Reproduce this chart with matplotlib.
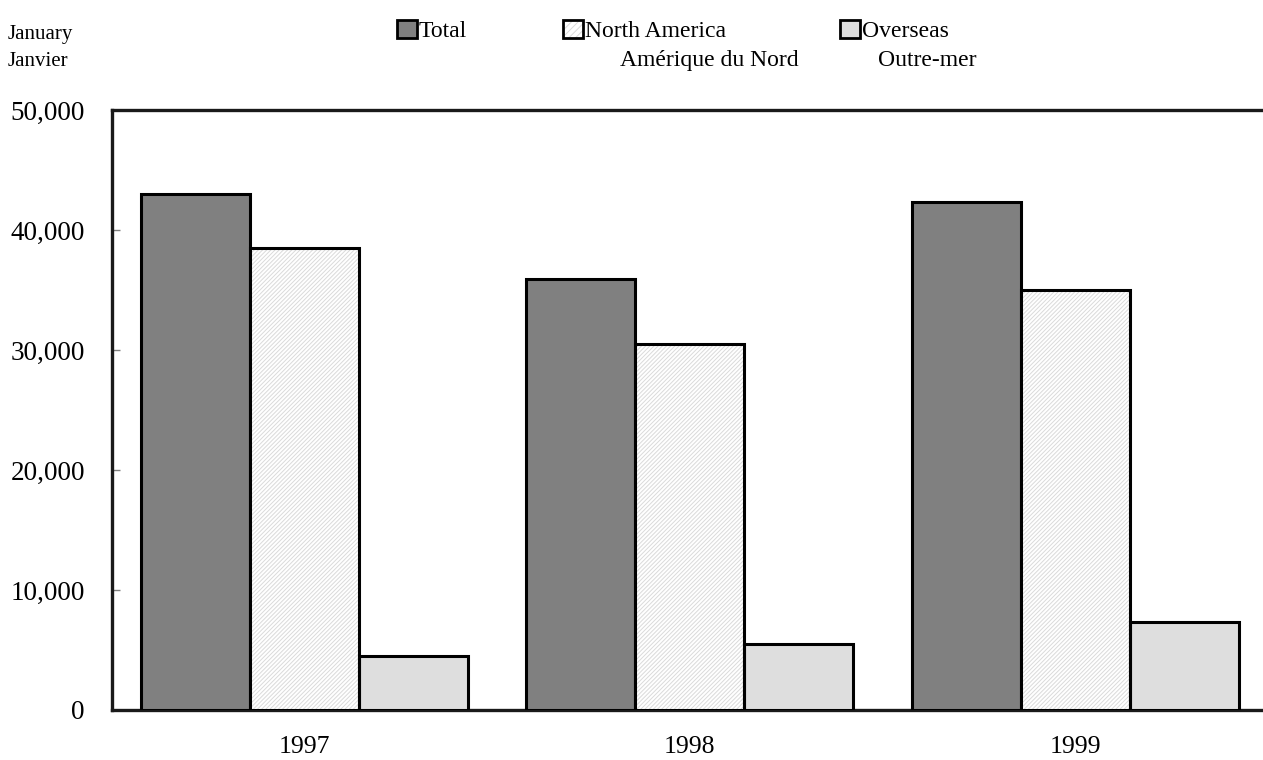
import numpy as np
import matplotlib.pyplot as plt
from matplotlib.patches import Rectangle
from matplotlib.ticker import FuncFormatter

plt.rcParams['font.family'] = ['Liberation Serif', 'DejaVu Serif']
plt.rcParams['hatch.linewidth'] = 0.7

years = ['1997', '1998', '1999']
total = [43000, 35900, 42300]
north_america = [38500, 30500, 35000]
overseas = [4500, 5500, 7300]

x = np.arange(len(years))
w = 0.283
hatch = '/' * 8

fig = plt.figure(figsize=(12.63, 7.6), dpi=100)
ax = fig.add_axes([0.0887, 0.0658, 0.9113, 0.7895])

ax.bar(x - w, total, w, color='#808080', edgecolor='black', linewidth=2.2, zorder=3)
# hatched bars: light hatch first, black outline on top
ax.bar(x, north_america, w, color='white', edgecolor='#dadada', hatch=hatch, linewidth=0, zorder=3)
ax.bar(x, north_america, w, color='none', edgecolor='black', linewidth=2.2, zorder=4)
ax.bar(x + w, overseas, w, color='#dedede', edgecolor='black', linewidth=2.2, zorder=3)

ax.set_xlim(-0.5, 2.488)
ax.set_ylim(0, 50000)
ax.set_yticks(range(0, 50001, 10000))
ax.yaxis.set_major_formatter(FuncFormatter(lambda v, p: f'{int(v):,}'))
ax.set_xticks(x)
ax.set_xticklabels(years)
ax.tick_params(axis='y', direction='in', length=6, color='#808080', width=1, labelsize=19.5, pad=19.5)
ax.tick_params(axis='x', length=0, labelsize=18.5, pad=19)
ax.spines['right'].set_visible(False)
for s in ['left', 'top', 'bottom']:
    ax.spines[s].set_linewidth(2.4)
    ax.spines[s].set_color('#1a1a1a')

fig.text(0.006, 0.967, 'January\nJanvier', fontsize=15, va='top', ha='left', linespacing=1.55)

# legend drawn by hand
leg = [('Total', '', '#808080', 0.3143, 0),
       ('North America', 'Amérique du Nord', 'white', 0.4458, 35),
       ('Overseas', 'Outre-mer', '#dedede', 0.6651, 16)]
for name, name2, fc, lx, indent in leg:
    box = (lx, 0.9500)
    bw, bh = 0.0158, 0.0237
    if name == 'North America':
        fig.patches.append(Rectangle(box, bw, bh, transform=fig.transFigure, facecolor='white',
                                     edgecolor='#dadada', linewidth=0, hatch='/' * 5))
        fc = 'none'
    fig.patches.append(Rectangle(box, bw, bh, transform=fig.transFigure,
                                 facecolor=fc, edgecolor='black', linewidth=2))
    tx = lx + 0.0172
    fig.text(tx, 0.959, name, fontsize=17, va='center', ha='left')
    if name2:
        fig.text(tx + indent / 1263, 0.920, name2, fontsize=17, va='center', ha='left')

fig.savefig('out.png', dpi=100)
